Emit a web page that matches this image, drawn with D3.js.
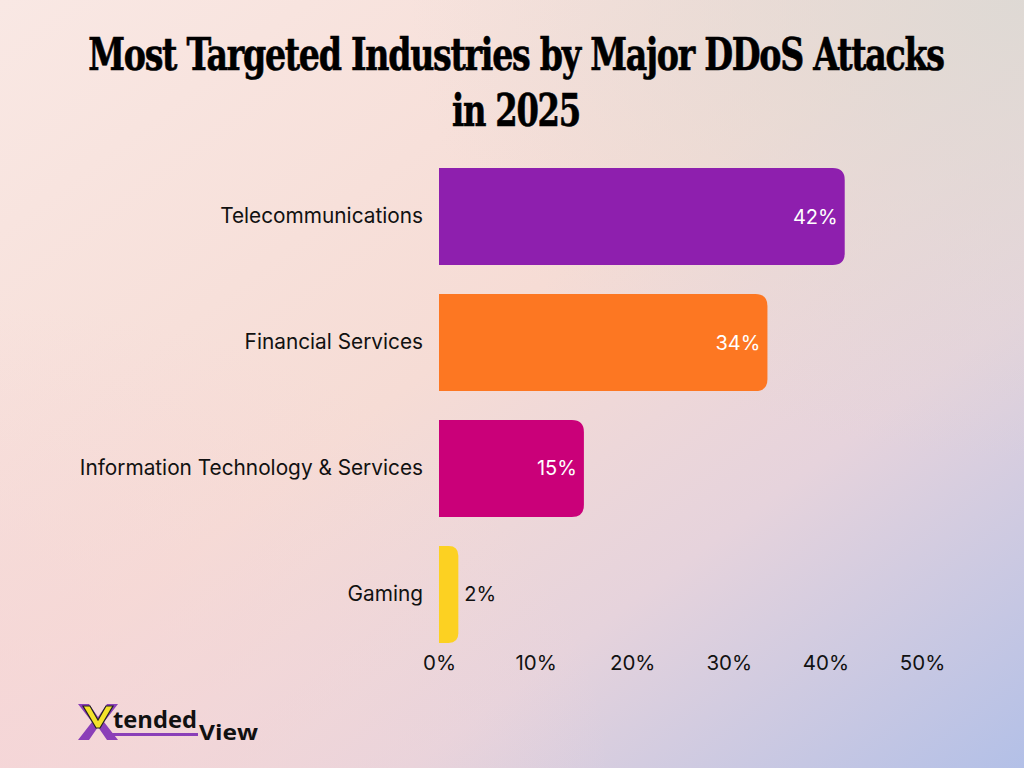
<!DOCTYPE html>
<html>
<head>
<meta charset="utf-8">
<script src="https://cdn.jsdelivr.net/npm/d3@7"></script>
<style>
  html, body { margin: 0; padding: 0; }
  body { width: 1024px; height: 768px; overflow: hidden; }
  svg { display: block; }
</style>
</head>
<body>
<div id="main"></div>
<script>
const categories = ['Telecommunications', 'Financial Services', 'Information Technology & Services', 'Gaming'];
const shares = [42, 34, 15, 2];
const barColours = ['#8E1FAE', '#FD7722', '#CA0079', '#FCD122'];
const axisTicks = [0, 10, 20, 30, 40, 50];
const titleLines = ['Most Targeted Industries by Major DDoS Attacks', 'in 2025'];

const WIDTH = 1024;
const HEIGHT = 768;

const svg = d3.select('#main').append('svg').attr('width', WIDTH).attr('height', HEIGHT);
const defs = svg.append('defs');

// background wash: peach top-left, lavender blue bottom-right
const bg = defs.append('linearGradient').attr('id', 'bg').attr('x1', 0).attr('y1', 0).attr('x2', 1).attr('y2', 1);
[['0', '#F9E8E4'], ['0.45', '#F6DCD5'], ['0.7', '#E6D3DC'], ['1', '#B3C0E7']]
  .forEach(([o, c]) => bg.append('stop').attr('offset', o).attr('stop-color', c));
const tr = defs.append('radialGradient').attr('id', 'tr').attr('cx', 1).attr('cy', 0).attr('r', 0.6);
tr.append('stop').attr('offset', 0).attr('stop-color', '#DCD9D4').attr('stop-opacity', 0.9);
tr.append('stop').attr('offset', 1).attr('stop-color', '#DCD9D4').attr('stop-opacity', 0);
const bl = defs.append('radialGradient').attr('id', 'bl').attr('cx', 0).attr('cy', 1).attr('r', 0.6);
bl.append('stop').attr('offset', 0).attr('stop-color', '#F5D5D8').attr('stop-opacity', 0.8);
bl.append('stop').attr('offset', 1).attr('stop-color', '#F5D5D8').attr('stop-opacity', 0);

svg.append('rect').attr('width', WIDTH).attr('height', HEIGHT).attr('fill', 'url(#bg)');
svg.append('rect').attr('width', WIDTH).attr('height', HEIGHT).attr('fill', 'url(#tr)');
svg.append('rect').attr('width', WIDTH).attr('height', HEIGHT).attr('fill', 'url(#bl)');

// title: heavy condensed serif, squeezed horizontally to the reference widths
const titleWidths = [856, 128];
const titleBase = [70, 126];
titleLines.forEach((line, i) => {
  const g = svg.append('g');
  const t = g.append('text')
    .attr('font-family', "'DejaVu Serif Condensed', 'DejaVu Serif', serif")
    .attr('font-weight', 'bold').attr('font-stretch', 'condensed')
    .attr('font-size', 44).attr('letter-spacing', -1.5)
    .attr('fill', '#000').attr('stroke', '#000').attr('stroke-width', 0.6)
    .attr('text-anchor', 'middle').text(line);
  const w = t.node().getComputedTextLength();
  const sx = titleWidths[i] / w;
  g.attr('transform', `translate(516,${titleBase[i]}) scale(${sx},1)`);
});

// scales
const x = d3.scaleLinear().domain([0, 50]).range([439, 922]);
const y = d3.scaleBand().domain(categories).range([168, 643]).paddingInner(0.23).paddingOuter(0);

const data = categories.map((c, i) => ({category: c, value: shares[i], colour: barColours[i]}));

const barPath = (x0, y0, w, h, r) => {
  r = Math.min(r, w / 2, h / 2);
  return `M${x0},${y0}H${x0 + w - r}Q${x0 + w},${y0} ${x0 + w},${y0 + r}` +
    `V${y0 + h - r}Q${x0 + w},${y0 + h} ${x0 + w - r},${y0 + h}H${x0}Z`;
};

const fontSans = "Inter, 'Noto Sans', sans-serif";

svg.append('g').selectAll('path').data(data).enter().append('path')
  .attr('d', (d) => barPath(x(0), y(d.category), x(d.value) - x(0), y.bandwidth(), 12))
  .attr('fill', (d) => d.colour);

// value labels: inside for long bars, outside for short ones
svg.append('g').selectAll('text').data(data).enter().append('text')
  .attr('font-family', fontSans).attr('font-size', 20)
  .attr('y', (d) => y(d.category) + y.bandwidth() / 2).attr('dy', '0.35em')
  .attr('x', (d) => d.value > 5 ? x(d.value) - 7 : x(d.value) + 6)
  .attr('text-anchor', (d) => d.value > 5 ? 'end' : 'start')
  .attr('fill', (d) => d.value > 5 ? '#fff' : '#111')
  .text((d) => d.value + '%');

// axes
const axisY = d3.axisLeft(y).tickSize(0).tickPadding(16);
const gy = svg.append('g').attr('transform', `translate(${x(0)},0)`).call(axisY);
gy.select('.domain').remove();
gy.selectAll('text').attr('font-family', fontSans).attr('font-size', 20.8).attr('fill', '#111');

const axisX = d3.axisBottom(x).tickValues(axisTicks).tickSize(0).tickPadding(5).tickFormat((d) => d + '%');
const gx = svg.append('g').attr('transform', 'translate(0,650)').call(axisX);
gx.select('.domain').remove();
gx.selectAll('text').attr('font-family', fontSans).attr('font-size', 20.5).attr('fill', '#111');

// logo
const logo = svg.append('g').attr('transform', 'translate(78,704)');
logo.append('path').attr('d', 'M0,0H11L20,13L29,0H40L26,18L40,36H29L20,23L11,36H0L14,18Z').attr('fill', '#8A3FB8');
logo.append('path').attr('d', 'M5,2H12L20,16L28,2H35L22,24H18Z').attr('fill', '#F3E22B').attr('stroke', '#222').attr('stroke-width', 1.2);
logo.append('text').attr('x', 35).attr('y', 24).attr('font-family', "'Open Sans', sans-serif").attr('font-weight', 'bold')
  .attr('font-size', 23).attr('fill', '#111').attr('textLength', 84).attr('lengthAdjust', 'spacingAndGlyphs').text('tended');
logo.append('rect').attr('x', 30).attr('y', 29).attr('width', 90).attr('height', 3).attr('fill', '#8A3FB8');
logo.append('text').attr('x', 121).attr('y', 36).attr('font-family', "'Open Sans', sans-serif").attr('font-weight', 'bold')
  .attr('font-size', 22).attr('fill', '#111').attr('textLength', 59).attr('lengthAdjust', 'spacingAndGlyphs').text('View');
</script>
</body>
</html>
